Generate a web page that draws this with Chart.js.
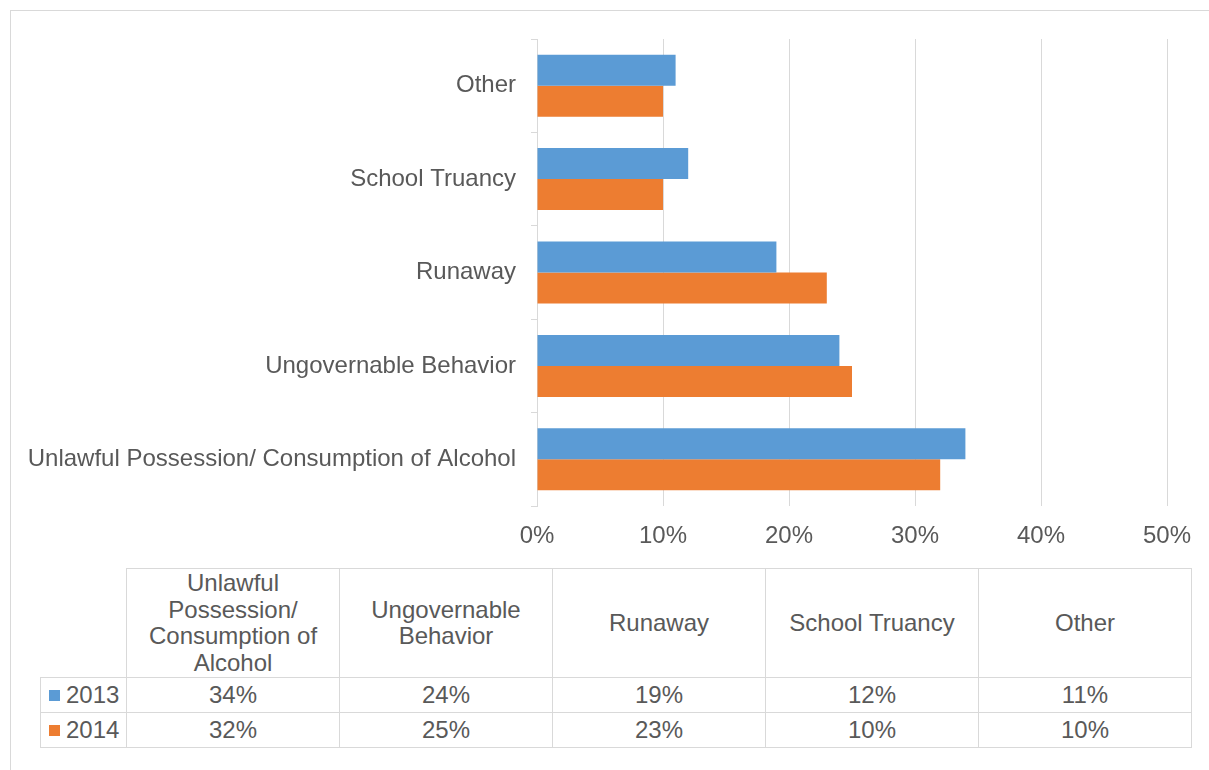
<!DOCTYPE html>
<html>
<head>
<meta charset="utf-8">
<script src="https://cdn.jsdelivr.net/npm/chart.js"></script>
<style>
body { margin: 0; background: #fff; overflow: hidden; font-family: 'Liberation Sans', Arial, sans-serif; color: #595959; }
#wrap { position: relative; width: 1209px; height: 770px; overflow: hidden; }
#marco { position: absolute; left: 10px; top: 10px; width: 1300px; height: 900px; border: 1px solid #d9d9d9; }
#caja { position: absolute; left: 0; top: 0; width: 1209px; height: 560px; }
#tabla { position: absolute; left: 40px; top: 568px; border-collapse: collapse; table-layout: fixed; font-size: 24px; color: #595959; }
#tabla td { border: 1px solid #d9d9d9; text-align: center; padding: 0 20px; line-height: 26.5px; }
#tabla tr.cab td { height: 108px; }
#tabla tr.fila td { height: 34px; line-height: 26px; }
#tabla td.vacia { border-top: none; border-left: none; }
#tabla td.leyenda { text-align: left; padding: 0 0 0 8px; white-space: nowrap; }
.cuadro { display: inline-block; width: 11px; height: 11px; margin-right: 6px; vertical-align: 2px; }
</style>
</head>
<body>
<div id="wrap">
  <div id="marco"></div>
  <div id="caja"><canvas id="grafica" width="1209" height="560"></canvas></div>
  <table id="tabla">
    <colgroup>
      <col style="width:86px">
      <col style="width:213px"><col style="width:213px"><col style="width:213px"><col style="width:213px"><col style="width:213px">
    </colgroup>
    <tbody id="cuerpo"></tbody>
  </table>
</div>
<script>
const categorias = ['Unlawful Possession/ Consumption of Alcohol', 'Ungovernable Behavior', 'Runaway', 'School Truancy', 'Other'];
const valores2013 = [34, 24, 19, 12, 11];
const valores2014 = [32, 25, 23, 10, 10];
const series = ['2013', '2014'];
const colores = ['#5B9BD5', '#ED7D31'];
const ticksX = [0, 10, 20, 30, 40, 50];

const gris = '#d9d9d9';
const texto = '#595959';

Chart.defaults.font.family = "'Liberation Sans', Arial, sans-serif";
Chart.defaults.font.size = 24;
Chart.defaults.color = texto;

// la grafica va de arriba (Other) hacia abajo
const etiquetas = categorias.slice().reverse();
const todos = [valores2013, valores2014];

const graph = document.getElementById('grafica');
const myChart = new Chart(graph, {
    type: 'bar',
    data: {
        labels: etiquetas,
        datasets: series.map((s, k) => ({
            label: s,
            data: todos[k].slice().reverse(),
            backgroundColor: colores[k],
            borderWidth: 0,
            categoryPercentage: 0.664,
            barPercentage: 1.0
        }))
    },
    options: {
        indexAxis: 'y',
        responsive: false,
        animation: false,
        layout: { padding: { top: 39, right: 42, left: 0, bottom: 0 } },
        plugins: { legend: { display: false }, tooltip: { enabled: false } },
        scales: {
            x: {
                min: ticksX[0],
                max: ticksX[ticksX.length - 1],
                afterBuildTicks: (s) => { s.ticks = ticksX.map(v => ({ value: v })); },
                afterFit: (s) => { s.height = 54; },
                ticks: { padding: 16, callback: (v) => v + '%', color: texto },
                grid: { color: gris, drawTicks: false, lineWidth: 1 },
                border: { display: false }
            },
            y: {
                afterFit: (s) => { s.width = 537; },
                ticks: { padding: 15, color: texto },
                grid: { drawOnChartArea: false, drawTicks: true, tickLength: 6, color: gris, offset: true },
                border: { display: true, color: gris }
            }
        }
    }
});

// TABLA
let cuerpo = document.getElementById('cuerpo');
let cab = document.createElement('tr');
cab.className = 'cab';
let vacia = document.createElement('td');
vacia.className = 'vacia';
cab.appendChild(vacia);
for (let i = 0; i < categorias.length; i++) {
    let td = document.createElement('td');
    td.textContent = categorias[i];
    cab.appendChild(td);
}
cuerpo.appendChild(cab);

for (let k = 0; k < series.length; k++) {
    let fila = document.createElement('tr');
    fila.className = 'fila';
    let ley = document.createElement('td');
    ley.className = 'leyenda';
    ley.innerHTML = '<span class="cuadro" style="background:' + colores[k] + '"></span>' + series[k];
    fila.appendChild(ley);
    for (let i = 0; i < categorias.length; i++) {
        let td = document.createElement('td');
        td.textContent = todos[k][i] + '%';
        fila.appendChild(td);
    }
    cuerpo.appendChild(fila);
}
</script>
</body>
</html>
